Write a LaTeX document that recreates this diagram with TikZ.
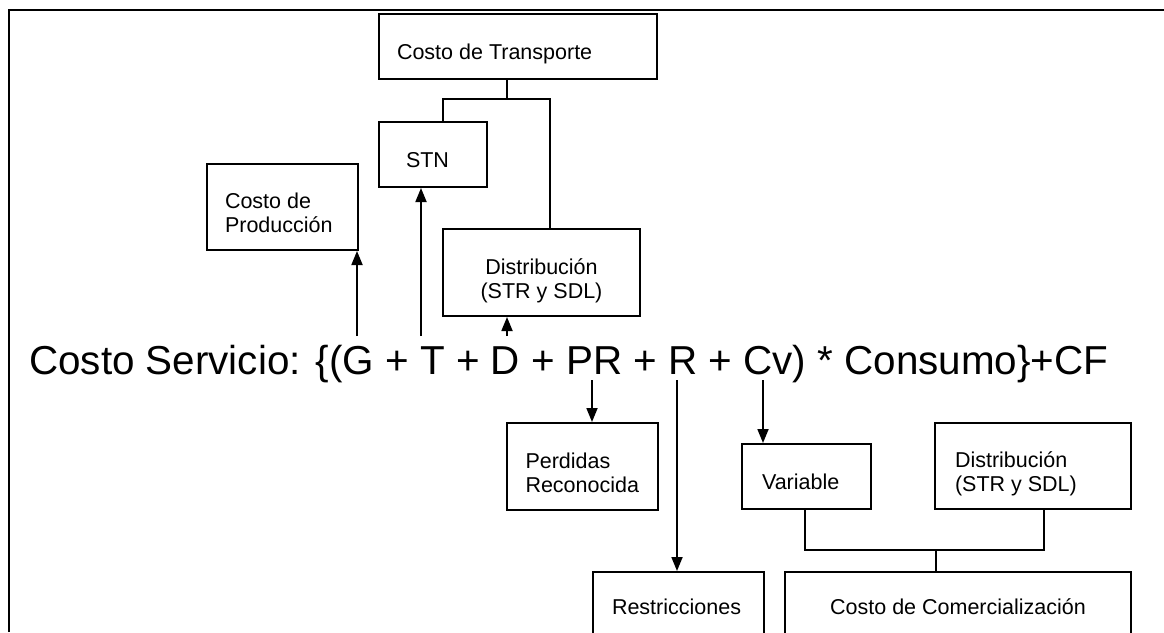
\documentclass[tikz,border=0pt]{standalone}
\usepackage{fontspec}
\setmainfont{Liberation Sans}
\usetikzlibrary{arrows.meta}
\newcommand\boxtext[4]{\makebox[#1][#2]{\raisebox{-#3}[\height][\depth]{\begin{tabular}{@{}#2@{}}#4\end{tabular}}}}
\begin{document}
\begin{tikzpicture}[x=1pt,y=-1pt,
  box/.style={draw, line width=2pt, anchor=north west, inner ysep=0pt,
    font=\fontsize{21.5}{24}\selectfont},
  conn/.style={line width=1.8pt},
  arr/.style={conn, -{Triangle[length=14pt,width=11pt]}},
  frame/.style={line width=2.8pt}]
\useasboundingbox (0,0) rectangle (1164,632);
\clip (0,0) rectangle (1164,632);
\draw[frame] (9,632) -- (9,10) -- (1164,10);

% boxes
\node[box, minimum height=65.3pt, inner xsep=18pt] (trans) at (378,12.7)
  {\boxtext{242pt}{l}{8pt}{Costo de Transporte}};
\node[box, minimum height=65pt, inner xsep=27pt] (stn) at (378,121)
  {\boxtext{54pt}{l}{8pt}{STN}};
\node[box, minimum height=86pt, inner xsep=18pt] (prod) at (206,163)
  {\boxtext{115pt}{l}{9pt}{Costo de\\Producción}};
\node[box, minimum height=87pt, inner xsep=10pt] (distU) at (442,228)
  {\boxtext{177pt}{c}{9pt}{Distribución\\(STR y SDL)}};
\node[box, minimum height=87pt, inner xsep=18.5pt] (perd) at (506,422)
  {\boxtext{114pt}{l}{9pt}{Perdidas\\Reconocida}};
\node[box, minimum height=65pt, inner xsep=20pt] (var) at (741,443)
  {\boxtext{89pt}{l}{8pt}{Variable}};
\node[box, minimum height=86pt, inner xsep=20pt] (distL) at (934,422)
  {\boxtext{156pt}{l}{9pt}{Distribución\\(STR y SDL)}};
\node[box, minimum height=76pt, inner xsep=19pt] (restr) at (592,571)
  {\boxtext{133pt}{l}{0pt}{Restricciones}};
\node[box, minimum height=76pt, inner xsep=10pt] (comer) at (784,571)
  {\boxtext{326pt}{c}{0pt}{Costo de Comercialización}};

% equation
\node[anchor=base west, inner sep=0pt, font=\fontsize{40.4}{48}\selectfont] (eq) at (29,374.5)
  {Costo Servicio: \{(G + T + D + PR + R + Cv) * Consumo\}+CF};

% top connectors
\coordinate (tL) at (443,99);
\coordinate (tM) at (507,99);
\coordinate (tR) at (550,99);
\draw[conn] (stn.north -| tL) -- (tL) -- (tR) -- (distU.north -| tR);
\draw[conn] (trans.south -| tM) -- (tM);

% arrows up from the equation
\coordinate (aG) at (357,336);
\coordinate (aT) at (421,336);
\coordinate (aD) at (507,336);
\draw[arr] (aG) -- (aG |- prod.south);
\draw[arr] (aT) -- (aT |- stn.south);
\draw[arr] (aD) -- (aD |- distU.south);

% arrows down from the equation
\coordinate (aPR) at (592,380);
\coordinate (aR) at (677,380);
\coordinate (aCv) at (763,380);
\draw[arr] (aPR) -- (aPR |- perd.north);
\draw[arr] (aR) -- (aR |- restr.north);
\draw[arr] (aCv) -- (aCv |- var.north);

% bottom connectors
\coordinate (jL) at (805,550);
\coordinate (jM) at (936,550);
\coordinate (jR) at (1044,550);
\draw[conn] (var.south -| jL) -- (jL) -- (jR) -- (distL.south -| jR);
\draw[conn] (jM) -- (comer.north -| jM);
\end{tikzpicture}
\end{document}
